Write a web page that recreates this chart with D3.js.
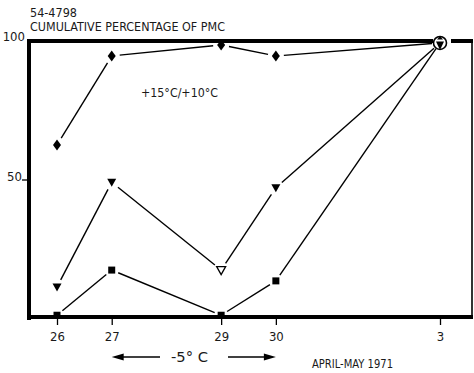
<!DOCTYPE html>
<html>
<head>
<meta charset="utf-8">
<script src="https://cdn.jsdelivr.net/npm/d3@7"></script>
<style>
  body { margin: 0; background: #fff; }
  text { font-family: "DejaVu Sans Condensed", "DejaVu Sans", sans-serif; fill: #1a1a1a; }
</style>
</head>
<body>
<svg id="chart" width="474" height="373"></svg>
<script>
// days counted from April 26 (1971)
var dayOffsets = [0, 1, 3, 4, 7];
var dayLabels = ["26", "27", "29", "30", "3"];

// cumulative percentage of PMC
var diamondSeries = [62.5, 94.6, 98.6, 94.6, 99.3];   // +15C/+10C
var triangleSeries = [11.2, 49, 17.3, 47, 99.3];
var squareSeries = [1, 17.3, 1, 13.4, 99.3];

var yTicks = [50, 100];

var svg = d3.select('#chart');

var x = d3.scaleLinear().domain([0, 7]).range([57, 440]);
var y = d3.scaleLinear().domain([0, 100]).range([318, 41]);

// frame
svg.append('line').attr('x1', 29).attr('x2', 29).attr('y1', 39).attr('y2', 320)
    .attr('stroke', '#000').attr('stroke-width', 4);
svg.append('line').attr('x1', 27).attr('x2', 433).attr('y1', 41).attr('y2', 41)
    .attr('stroke', '#000').attr('stroke-width', 4);
svg.append('line').attr('x1', 451).attr('x2', 473).attr('y1', 41).attr('y2', 41)
    .attr('stroke', '#000').attr('stroke-width', 4);
svg.append('line').attr('x1', 27).attr('x2', 473).attr('y1', 317).attr('y2', 317)
    .attr('stroke', '#000').attr('stroke-width', 4);
svg.append('line').attr('x1', 472).attr('x2', 472).attr('y1', 39).attr('y2', 319)
    .attr('stroke', '#000').attr('stroke-width', 1.6);

// x axis ticks
var xAxis = d3.axisBottom(x)
    .tickValues(dayOffsets)
    .tickFormat((d, i) => dayLabels[i])
    .tickSize(7)
    .tickSizeOuter(0);
var gx = svg.append('g').attr('transform', 'translate(0,318)').call(xAxis);
gx.select('.domain').remove();
gx.selectAll('line').attr('stroke', '#000').attr('stroke-width', 1.3);
gx.selectAll('text').attr('font-size', 13).attr('dy', '0.62em').attr('y', 15);

// y axis ticks
var yAxis = d3.axisLeft(y)
    .tickValues(yTicks)
    .tickSize(6)
    .tickSizeOuter(0);
var gy = svg.append('g').attr('transform', 'translate(28,0)').call(yAxis);
gy.select('.domain').remove();
gy.selectAll('line').attr('stroke', '#000').attr('stroke-width', 1.3);
gy.selectAll('text').attr('font-size', 13).attr('x', -6).attr('dy', '0.1em');
gy.selectAll('.tick').filter(d => d === 100).select('line').remove();
gy.selectAll('.tick').filter(d => d === 100).select('text').attr('x', -3).attr('dy', '-0.05em');

// connecting lines with small gaps at the markers
function drawSeries(values, gap) {
    var pts = values.map((v, i) => [x(dayOffsets[i]), y(v)]);
    for (var i = 0; i < pts.length - 1; i++) {
        var a = pts[i], b = pts[i + 1];
        var dx = b[0] - a[0], dy = b[1] - a[1];
        var len = Math.sqrt(dx * dx + dy * dy);
        var g = gap / len;
        svg.append('line')
            .attr('x1', a[0] + dx * g).attr('y1', a[1] + dy * g)
            .attr('x2', b[0] - dx * g).attr('y2', b[1] - dy * g)
            .attr('stroke', '#000').attr('stroke-width', 1.4);
    }
}
drawSeries(diamondSeries, 8);
drawSeries(triangleSeries, 8);
drawSeries(squareSeries, 7);

// markers
var diamondPath = 'M0,-5.5L4,0L0,5.5L-4,0Z';
var squarePath = 'M-3.5,-3.5H3.5V3.5H-3.5Z';
var trianglePath = 'M-4.5,-3.5H4.5L0,4.5Z';

svg.selectAll('.sq').data(squareSeries.slice(0, 4)).enter()
    .append('path').attr('class', 'sq')
    .attr('d', squarePath)
    .attr('transform', (d, i) => 'translate(' + x(dayOffsets[i]) + ',' + y(d) + ')')
    .attr('fill', '#000');

svg.selectAll('.tri').data(triangleSeries.slice(0, 4)).enter()
    .append('path').attr('class', 'tri')
    .attr('d', trianglePath)
    .attr('transform', (d, i) => 'translate(' + x(dayOffsets[i]) + ',' + y(d) + ')')
    .attr('fill', (d, i) => i === 2 ? '#fff' : '#000')
    .attr('stroke', '#000')
    .attr('stroke-width', (d, i) => i === 2 ? 1.3 : 0);

svg.selectAll('.dia').data(diamondSeries.slice(0, 4)).enter()
    .append('path').attr('class', 'dia')
    .attr('d', diamondPath)
    .attr('transform', (d, i) => 'translate(' + x(dayOffsets[i]) + ',' + y(d) + ')')
    .attr('fill', '#000');

// all three series meet on May 3
var last = dayOffsets.length - 1;
var cx = x(dayOffsets[last]), cy = y(diamondSeries[last]);
svg.append('circle').attr('cx', cx).attr('cy', cy).attr('r', 6.5)
    .attr('fill', '#fff').attr('stroke', '#000').attr('stroke-width', 1.6);
svg.append('path').attr('d', 'M0,-7L3,-3.5H-3Z')
    .attr('transform', 'translate(' + cx + ',' + cy + ')').attr('fill', '#000');
svg.append('path').attr('d', 'M-4,-1.5H4L0,7Z')
    .attr('transform', 'translate(' + cx + ',' + cy + ')').attr('fill', '#000');

// texts
svg.append('text').attr('x', 30).attr('y', 17).attr('font-size', 12.5)
    .attr('textLength', 47).attr('lengthAdjust', 'spacingAndGlyphs').text('54-4798');
svg.append('text').attr('x', 30).attr('y', 31).attr('font-size', 12.5)
    .attr('textLength', 195).attr('lengthAdjust', 'spacingAndGlyphs').text('CUMULATIVE PERCENTAGE OF PMC');
svg.append('text').attr('x', 141).attr('y', 97).attr('font-size', 13)
    .attr('textLength', 77).attr('lengthAdjust', 'spacingAndGlyphs').text('+15°C/+10°C');
svg.append('text').attr('x', 171).attr('y', 362).attr('font-size', 14)
    .attr('textLength', 37).attr('lengthAdjust', 'spacingAndGlyphs').text('-5° C');
svg.append('text').attr('x', 312).attr('y', 368).attr('font-size', 12.5)
    .attr('textLength', 81).attr('lengthAdjust', 'spacingAndGlyphs').text('APRIL-MAY 1971');

// -5C period arrows (April 27 to 30)
var ay = 357;
svg.append('line').attr('x1', x(1) + 8).attr('x2', 160).attr('y1', ay).attr('y2', ay)
    .attr('stroke', '#000').attr('stroke-width', 1.4);
svg.append('path').attr('d', 'M0,0L12,-3.5L12,3.5Z')
    .attr('transform', 'translate(' + x(1) + ',' + ay + ')').attr('fill', '#000');
svg.append('line').attr('x1', 228).attr('x2', x(4) - 8).attr('y1', ay).attr('y2', ay)
    .attr('stroke', '#000').attr('stroke-width', 1.4);
svg.append('path').attr('d', 'M0,0L-12,-3.5L-12,3.5Z')
    .attr('transform', 'translate(' + x(4) + ',' + ay + ')').attr('fill', '#000');
</script>
</body>
</html>
